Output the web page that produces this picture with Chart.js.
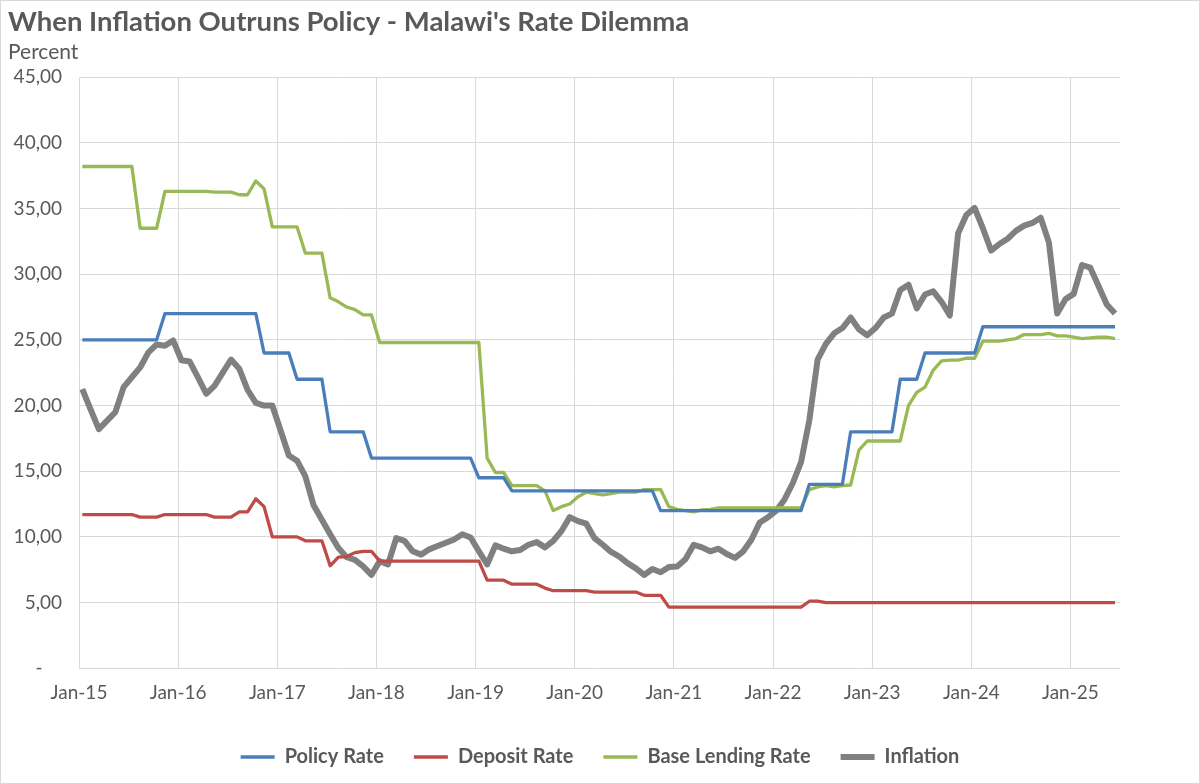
<!DOCTYPE html>
<html>
<head>
<meta charset="utf-8">
<script src="https://cdn.jsdelivr.net/npm/chart.js@4/dist/chart.umd.min.js"></script>
<style>
  body { margin: 0; background: #fff; }
  #wrap { position: relative; width: 1200px; height: 784px; }
  #rahmen { position: absolute; left: 0; top: 0; width: 1200px; height: 784px; box-sizing: border-box; border: 1px solid #d9d9d9; pointer-events: none; }
</style>
</head>
<body>
<div id="wrap">
  <canvas id="chart" width="1200" height="784"></canvas>
  <div id="rahmen"></div>
</div>
<script>
// Monatswerte Jan-15 bis Jun-25 (126 Monate)
const tickLabels = ["Jan-15", "Jan-16", "Jan-17", "Jan-18", "Jan-19", "Jan-20",
  "Jan-21", "Jan-22", "Jan-23", "Jan-24", "Jan-25"];

const policyRate = [
  25, 25, 25, 25, 25, 25, 25, 25, 25, 25,
  27, 27, 27, 27, 27, 27, 27, 27, 27, 27, 27, 27,
  24, 24, 24, 24,
  22, 22, 22, 22,
  18, 18, 18, 18, 18,
  16, 16, 16, 16, 16, 16, 16, 16, 16, 16, 16, 16, 16,
  14.5, 14.5, 14.5, 14.5,
  13.5, 13.5, 13.5, 13.5, 13.5, 13.5, 13.5, 13.5, 13.5, 13.5, 13.5, 13.5, 13.5, 13.5, 13.5, 13.5, 13.5, 13.5,
  12, 12, 12, 12, 12, 12, 12, 12, 12, 12, 12, 12, 12, 12, 12, 12, 12, 12,
  14, 14, 14, 14, 14,
  18, 18, 18, 18, 18, 18,
  22, 22, 22,
  24, 24, 24, 24, 24, 24, 24,
  26, 26, 26, 26, 26, 26, 26, 26, 26, 26, 26, 26, 26, 26, 26, 26, 26
];

const depositRate = [
  11.7, 11.7, 11.7, 11.7, 11.7, 11.7, 11.7, 11.5, 11.5, 11.5,
  11.7, 11.7, 11.7, 11.7, 11.7, 11.7, 11.5, 11.5, 11.5, 11.9,
  11.9, 12.9, 12.3, 10.0, 10.0, 10.0, 10.0, 9.7, 9.7, 9.7,
  7.8, 8.45, 8.5, 8.8, 8.9, 8.9, 8.15, 8.15, 8.15, 8.15,
  8.15, 8.15, 8.15, 8.15, 8.15, 8.15, 8.15, 8.15, 8.15, 6.7,
  6.7, 6.7, 6.4, 6.4, 6.4, 6.4, 6.1, 5.9, 5.9, 5.9,
  5.9, 5.9, 5.8, 5.8, 5.8, 5.8, 5.8, 5.8, 5.55, 5.55,
  5.55, 4.65, 4.65, 4.65, 4.65, 4.65, 4.65, 4.65, 4.65, 4.65,
  4.65, 4.65, 4.65, 4.65, 4.65, 4.65, 4.65, 4.65, 5.1, 5.1,
  5, 5, 5, 5, 5, 5, 5, 5, 5, 5,
  5, 5, 5, 5, 5, 5, 5, 5, 5, 5,
  5, 5, 5, 5, 5, 5, 5, 5, 5, 5,
  5, 5, 5, 5, 5, 5
];

const baseLendingRate = [
  38.2, 38.2, 38.2, 38.2, 38.2, 38.2, 38.2, 33.5, 33.5, 33.5,
  36.3, 36.3, 36.3, 36.3, 36.3, 36.3, 36.25, 36.25, 36.25, 36.05,
  36.05, 37.1, 36.5, 33.6, 33.6, 33.6, 33.6, 31.6, 31.6, 31.6,
  28.2, 27.9, 27.5, 27.3, 26.9, 26.9, 24.8, 24.8, 24.8, 24.8,
  24.8, 24.8, 24.8, 24.8, 24.8, 24.8, 24.8, 24.8, 24.8, 16.0,
  14.9, 14.9, 13.9, 13.9, 13.9, 13.9, 13.5, 12.0, 12.3, 12.5,
  13.05, 13.4, 13.3, 13.2, 13.3, 13.4, 13.4, 13.4, 13.6, 13.6,
  13.6, 12.3, 12.1, 12.0, 11.9, 12.05, 12.1, 12.2, 12.2, 12.2,
  12.2, 12.2, 12.2, 12.2, 12.2, 12.2, 12.2, 12.2, 13.6, 13.8,
  13.9, 13.8, 13.9, 13.95, 16.6, 17.3, 17.3, 17.3, 17.3, 17.3,
  20.0, 21.0, 21.4, 22.7, 23.4, 23.45, 23.45, 23.6, 23.6, 24.9,
  24.9, 24.9, 25.0, 25.1, 25.4, 25.4, 25.4, 25.5, 25.3, 25.3,
  25.2, 25.1, 25.15, 25.2, 25.2, 25.1
];

const inflation = [
  21.25, 19.7, 18.2, 18.85, 19.5, 21.4, 22.15, 22.9, 24.05, 24.65,
  24.55, 24.95, 23.45, 23.35, 22.15, 20.9, 21.5, 22.5, 23.5, 22.8,
  21.2, 20.2, 20.0, 20.0, 18.1, 16.2, 15.8, 14.6, 12.4, 11.3,
  10.2, 9.15, 8.45, 8.25, 7.75, 7.1, 8.15, 7.9, 9.9, 9.7,
  8.9, 8.65, 9.05, 9.3, 9.55, 9.8, 10.2, 9.95, 8.9, 7.9,
  9.35, 9.1, 8.9, 9.0, 9.4, 9.6, 9.2, 9.7, 10.45, 11.5,
  11.2, 11.0, 9.9, 9.4, 8.85, 8.5, 8.0, 7.6, 7.1, 7.55,
  7.3, 7.7, 7.75, 8.3, 9.4, 9.2, 8.9, 9.1, 8.7, 8.4,
  8.9, 9.8, 11.1, 11.5, 12.0, 12.85, 14.1, 15.7, 18.9, 23.5,
  24.7, 25.5, 25.9, 26.7, 25.8, 25.35, 25.9, 26.7, 27.0, 28.8,
  29.2, 27.4, 28.45, 28.7, 27.9, 26.85, 33.1, 34.5, 35.05, 33.5,
  31.8, 32.3, 32.7, 33.3, 33.7, 33.9, 34.3, 32.4, 27.0, 28.1,
  28.5, 30.7, 30.5, 29.1, 27.7, 27.0
];

// Messpunkte liegen etwas nach dem Monatsanfang (Gitterlinie)
const monatsVersatz = 0.4;

const textFarbe = "#595959";
const gitterFarbe = "#d9d9d9";
const schrift = "Lato";

function punkte(werte) {
  return werte.map((wert, i) => ({ x: i, y: wert }));
}

function linie(label, werte, farbe, breite) {
  return {
    label: label,
    data: punkte(werte),
    borderColor: farbe,
    backgroundColor: farbe,
    borderWidth: breite,
    pointRadius: 0,
    tension: 0,
    borderJoinStyle: "round",
    borderCapStyle: "butt",
    fill: false
  };
}

new Chart(document.getElementById("chart").getContext("2d"), {
  type: "line",
  data: {
    datasets: [
      linie("Policy Rate", policyRate, "#4a7ebb", 3.3),
      linie("Deposit Rate", depositRate, "#be4b48", 3.3),
      linie("Base Lending Rate", baseLendingRate, "#98b954", 3.3),
      linie("Inflation", inflation, "#808080", 6)
    ]
  },
  options: {
    responsive: false,
    devicePixelRatio: 1,
    animation: false,
    layout: { padding: { left: 8, right: 8, top: 6, bottom: 7 } },
    scales: {
      x: {
        type: "linear",
        min: -monatsVersatz,
        max: 125.6,
        afterBuildTicks: scale => {
          scale.ticks = tickLabels.map((_, k) => ({ value: k * 12 - monatsVersatz }));
        },
        ticks: {
          autoSkip: false,
          maxRotation: 0,
          padding: 13,
          color: textFarbe,
          font: { family: schrift, size: 19 },
          callback: (wert, index) => tickLabels[index]
        },
        grid: { color: gitterFarbe, lineWidth: 1, drawTicks: false },
        border: { display: false }
      },
      y: {
        min: 0,
        max: 45,
        afterFit: scale => { scale.width = 71; },
        ticks: {
          stepSize: 5,
          padding: 17,
          color: textFarbe,
          font: { family: schrift, size: 19 },
          callback: wert => wert === 0 ? "-    " : wert.toFixed(2).replace(".", ",")
        },
        grid: { color: gitterFarbe, lineWidth: 1, drawTicks: false },
        border: { display: false }
      },
      rechts: {
        position: "right",
        afterFit: scale => { scale.width = 72; },
        ticks: { display: false },
        grid: { display: false, drawTicks: false },
        border: { display: false }
      }
    },
    plugins: {
      title: {
        display: true,
        text: "When Inflation Outruns Policy - Malawi's Rate Dilemma",
        align: "start",
        color: textFarbe,
        font: { family: schrift, size: 27.5, weight: "bold" },
        padding: { top: 0, bottom: 0 }
      },
      subtitle: {
        display: true,
        text: "Percent",
        align: "start",
        color: textFarbe,
        font: { family: schrift, size: 21 },
        padding: { top: 1, bottom: 12 }
      },
      legend: {
        position: "bottom",
        labels: {
          usePointStyle: true,
          pointStyle: "line",
          pointStyleWidth: 34,
          padding: 30,
          color: textFarbe,
          font: { family: schrift, size: 20, weight: "bold" }
        }
      },
      tooltip: { enabled: false }
    }
  }
});
</script>
</body>
</html>
